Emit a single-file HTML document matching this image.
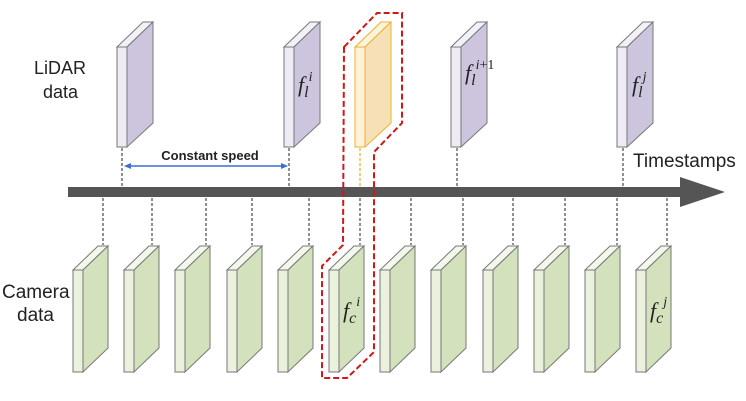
<!DOCTYPE html>
<html><head><style>body{margin:0;background:#fff}svg{display:block}</style></head><body>
<svg width="746" height="401" viewBox="0 0 746 401" xmlns="http://www.w3.org/2000/svg" font-family="Liberation Sans, sans-serif">
<defs>
<g id="lid">
<polygon points="0,25 26,0 36,0 10,25" fill="#f3f1f8" stroke="#777" stroke-width="1"/>
<rect x="0" y="25" width="10" height="100" fill="#eeebf4" stroke="#777"/>
<polygon points="10,25 36,0 36,101 10,125" fill="#cdc4de" stroke="#777"/>
</g>
<g id="cam">
<polygon points="0,24 25,0 35,0 10,24" fill="#f4f8ec" stroke="#777"/>
<rect x="0" y="24" width="10" height="102" fill="#eaf1dd" stroke="#777"/>
<polygon points="10,24 35,0 35,102 10,126" fill="#d3e2bd" stroke="#777"/>
</g>
</defs>
<text x="34" y="74" font-size="18" fill="#222">LiDAR</text>
<text x="43" y="98" font-size="18" fill="#222">data</text>
<text x="2" y="298" font-size="19" fill="#222">Camera</text>
<text x="17" y="321" font-size="19" fill="#222">data</text>
<text x="633" y="167" font-size="19" fill="#222">Timestamps</text>
<text x="210" y="160" font-size="13" font-weight="bold" text-anchor="middle" fill="#222">Constant speed</text>
<line x1="126" y1="166" x2="286" y2="166" stroke="#3b6fd0" stroke-width="1.5"/>
<polygon points="124,166 131,163 131,169" fill="#3b6fd0"/>
<polygon points="288,166 281,163 281,169" fill="#3b6fd0"/>
<g stroke="#555" stroke-width="1.3" stroke-dasharray="3,2">
<line x1="122" y1="148" x2="122" y2="186"/>
<line x1="289" y1="148" x2="289" y2="186"/>
<line x1="457" y1="148" x2="457" y2="186"/>
<line x1="623" y1="148" x2="623" y2="186"/>
</g>
<line x1="360" y1="148" x2="360" y2="186" stroke="#f0b030" stroke-width="1.3" stroke-dasharray="3,2"/>
<g stroke="#555" stroke-width="1.3" stroke-dasharray="3,2">
<line x1="103" y1="198" x2="103" y2="245"/>
<line x1="152" y1="198" x2="152" y2="245"/>
<line x1="206" y1="198" x2="206" y2="245"/>
<line x1="252" y1="198" x2="252" y2="245"/>
<line x1="309" y1="198" x2="309" y2="245"/>
<line x1="360" y1="198" x2="360" y2="245"/>
<line x1="411" y1="198" x2="411" y2="245"/>
<line x1="463" y1="198" x2="463" y2="245"/>
<line x1="513" y1="198" x2="513" y2="245"/>
<line x1="565" y1="198" x2="565" y2="245"/>
<line x1="617" y1="198" x2="617" y2="245"/>
<line x1="667" y1="198" x2="667" y2="245"/>
</g>
<rect x="68" y="187" width="614" height="10" fill="#555"/>
<polygon points="680,177 725,192 680,207" fill="#555"/>
<use href="#lid" x="117" y="22"/>
<use href="#lid" x="284" y="22"/>
<use href="#lid" x="451" y="22"/>
<use href="#lid" x="617" y="22"/>
<g transform="translate(355,22)">
<polygon points="0,25 26,0 36,0 10,25" fill="#fdf3dc" stroke="#f0b030"/>
<rect x="0" y="25" width="10" height="100" fill="#fdf1d8" stroke="#f0b030"/>
<polygon points="10,25 36,0 36,101 10,125" fill="#f8e0b6" stroke="#f0b030"/>
</g>
<g>
<use href="#cam" x="73" y="246"/><use href="#cam" x="124" y="246"/><use href="#cam" x="175" y="246"/><use href="#cam" x="227" y="246"/><use href="#cam" x="278" y="246"/><use href="#cam" x="329" y="246"/><use href="#cam" x="380" y="246"/><use href="#cam" x="431" y="246"/><use href="#cam" x="483" y="246"/><use href="#cam" x="534" y="246"/><use href="#cam" x="585" y="246"/><use href="#cam" x="636" y="246"/>
</g>
<path d="M344,47 L377,13 L402,13 L402,123 L374,152 L374,352 L347,378 L322,378 L322,266 L343,245 Z" fill="none" stroke="#d01818" stroke-width="2" stroke-dasharray="6,3"/>
<g font-family="Liberation Serif, serif" font-style="italic" fill="#222">
<text x="298" y="92" font-size="22">f<tspan font-size="16" dy="5">l</tspan><tspan font-size="14" dy="-16">i</tspan></text>
<text x="465" y="80" font-size="22">f<tspan font-size="16" dy="5">l</tspan><tspan font-size="14" dy="-16">i</tspan><tspan font-style="normal" font-size="14">+1</tspan></text>
<text x="632" y="92" font-size="22">f<tspan font-size="16" dy="5">l</tspan><tspan font-size="14" dy="-16">j</tspan></text>
<text x="343" y="318" font-size="22">f<tspan font-size="16" dy="5">c</tspan><tspan font-size="14" dy="-17">i</tspan></text>
<text x="650" y="318" font-size="22">f<tspan font-size="16" dy="5">c</tspan><tspan font-size="14" dy="-17">j</tspan></text>
</g>
</svg>
</body></html>
